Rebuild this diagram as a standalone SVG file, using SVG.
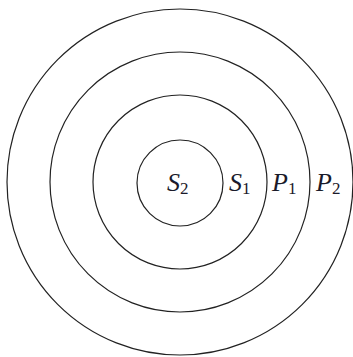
<svg xmlns="http://www.w3.org/2000/svg" width="353" height="357" viewBox="0 0 353 357">
<style>
.ring{fill:none;stroke:#222;stroke-width:1.2}
.lbl{font-family:"Liberation Serif","Times New Roman",serif;font-style:italic;font-size:26px;fill:#1a1a2a}
.sub{font-style:normal;font-size:17px}
</style>
<rect width="353" height="357" fill="#fff"/>
<g id="P2"><circle class="ring" cx="180" cy="182" r="173"/><text class="lbl" x="316" y="191">P<tspan class="sub" dy="3">2</tspan></text></g>
<g id="P1"><circle class="ring" cx="180" cy="182" r="130"/><text class="lbl" x="272" y="191">P<tspan class="sub" dy="3">1</tspan></text></g>
<g id="S1"><circle class="ring" cx="180" cy="182" r="87"/><text class="lbl" x="229" y="191">S<tspan class="sub" dy="3">1</tspan></text></g>
<g id="S2"><circle class="ring" cx="180" cy="183" r="43"/><text class="lbl" x="167" y="191">S<tspan class="sub" dy="3">2</tspan></text></g>
<g id="connectors"/>
</svg>
